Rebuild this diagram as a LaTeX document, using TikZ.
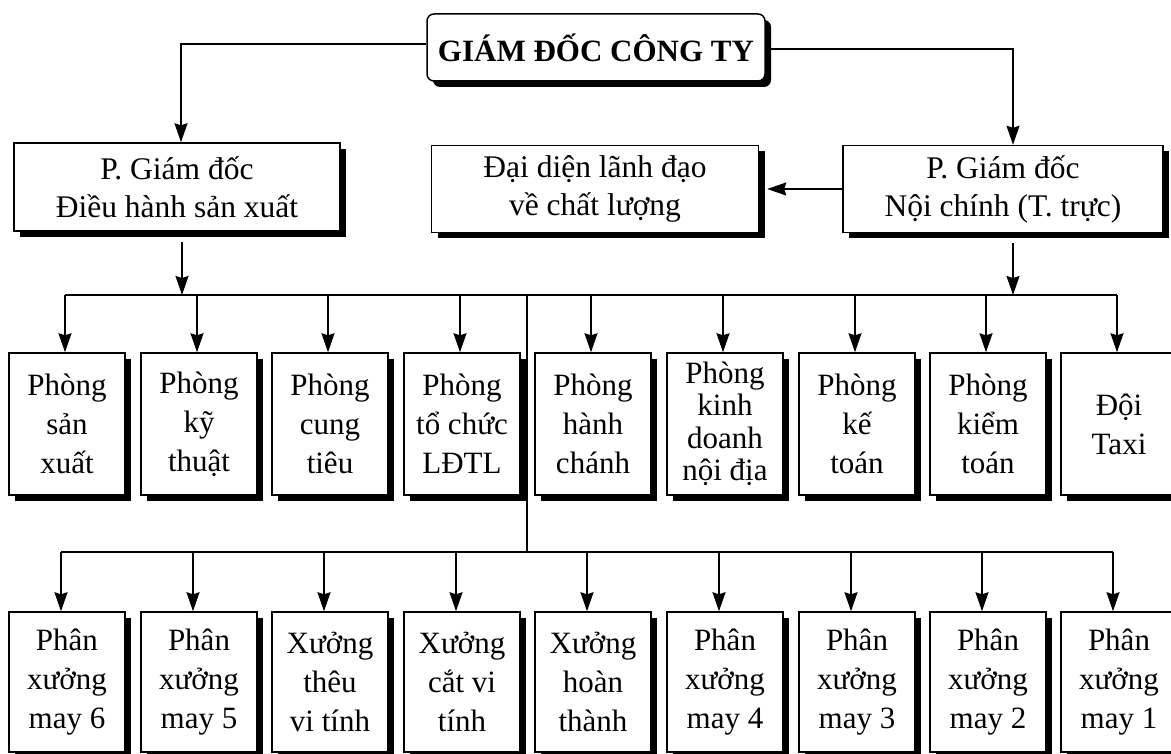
\documentclass[tikz,border=0pt]{standalone}
\usepackage{fontspec}
\setmainfont{Liberation Serif}
\usetikzlibrary{arrows.meta,shadows,calc}
\tikzset{
  box/.style={draw, line width=1.5pt, fill=white, align=center, inner sep=0pt,
    font=\fontsize{31}{39}\selectfont,
    drop shadow={shadow xshift=6pt, shadow yshift=-6pt, fill=black, opacity=1}},
  unitbox/.style={box, minimum width=116pt, minimum height=142pt},
  workbox/.style={box, minimum width=116pt, minimum height=140pt},
  conn/.style={line width=1.5pt, -{Stealth[length=19pt,width=13pt,inset=2pt]}},
  busline/.style={line width=1.5pt},
}
\begin{document}
\begin{tikzpicture}[x=1pt,y=-1pt]
\useasboundingbox (0,0) rectangle (1171,754);

% top level
\node[box, rounded corners=7pt, minimum width=338pt, minimum height=67pt,
  font=\fontsize{31}{36}\selectfont\bfseries] (gd) at (596,47.5) {GIÁM ĐỐC CÔNG TY};

\node[box, font=\fontsize{31.5}{38}\selectfont, minimum width=326pt, minimum height=88pt] (pl) at (177,187) {P. Giám đốc\\Điều hành sản xuất};
\node[box, font=\fontsize{31.5}{38}\selectfont, minimum width=327pt, minimum height=87pt] (dd) at (595,189) {Đại diện lãnh đạo\\về chất lượng};
\node[box, font=\fontsize{31.5}{38}\selectfont, minimum width=320pt, minimum height=87pt] (pr) at (1003,189) {P. Giám đốc\\Nội chính (T. trực)};

% row 1
\node[unitbox] (a1) at (67,424)  {Phòng\\sản\\xuất};
\node[unitbox] (a2) at (199,424) {Phòng\\kỹ\\thuật};
\node[unitbox] (a3) at (330,424) {Phòng\\cung\\tiêu};
\node[unitbox] (a4) at (462,424) {Phòng\\tổ chức\\LĐTL};
\node[unitbox] (a5) at (593,424) {Phòng\\hành\\chánh};
\node[unitbox, font=\fontsize{31}{32.5}\selectfont] (a6) at (725,424) {Phòng\\kinh\\doanh\\nội địa};
\node[unitbox] (a7) at (857,424) {Phòng\\kế\\toán};
\node[unitbox] (a8) at (988,424) {\raisebox{4pt}{\parbox{100pt}{\centering Phòng\\kiểm\\toán}}};
\node[unitbox] (a9) at (1119,424) {Đội\\Taxi};

% row 2
\node[workbox] (b1) at (67,682)  {Phân\\xưởng\\may 6};
\node[workbox] (b2) at (199,682) {Phân\\xưởng\\may 5};
\node[workbox] (b3) at (330,682) {Xưởng\\thêu\\vi tính};
\node[workbox] (b4) at (462,682) {Xưởng\\cắt vi\\tính};
\node[workbox] (b5) at (593,682) {Xưởng\\hoàn\\thành};
\node[workbox] (b6) at (725,682) {Phân\\xưởng\\may 4};
\node[workbox] (b7) at (857,682) {Phân\\xưởng\\may 3};
\node[workbox] (b8) at (988,682) {Phân\\xưởng\\may 2};
\node[workbox] (b9) at (1119,682) {Phân\\xưởng\\may 1};

% connectors from the director
\coordinate (cl) at (181,44);
\coordinate (cr) at (1013,49);
\draw[conn] (gd.west |- cl) -- (cl) -- (cl |- pl.north);
\draw[conn] (gd.east |- cr) -- (cr) -- (cr |- pr.north);
\draw[conn] (pr.west) -- ([xshift=8pt]pr.west -| dd.east);

% bus 1
\coordinate (bus1) at (0,295);
\coordinate (bus2) at (0,552);
\coordinate (pla) at ($(pl.south)+(5,10)$);
\coordinate (pra) at ($(pr.south)+(10,10)$);
\draw[conn] (pla) -- (pla |- bus1);
\draw[conn] (pra) -- (pra |- bus1);
\draw[busline] ([xshift=-2pt]a1.north |- bus1) -- ([xshift=-2pt]a9.north |- bus1);
\foreach \n in {a1,a2,a3,a4,a5,a6,a7,a8,a9}
  \draw[conn] ([xshift=-2pt]\n.north |- bus1) -- ([xshift=-2pt]\n.north);

% trunk to row 2
\coordinate (tr) at (527,295);
\draw[busline] (tr) -- (tr |- bus2);
\draw[busline] ([xshift=-6pt]b1.north |- bus2) -- ([xshift=-6pt]b9.north |- bus2);
\foreach \n in {b1,b2,b3,b4,b5,b6,b7,b8,b9}
  \draw[conn] ([xshift=-6pt]\n.north |- bus2) -- ([xshift=-6pt]\n.north);
\end{tikzpicture}
\end{document}
